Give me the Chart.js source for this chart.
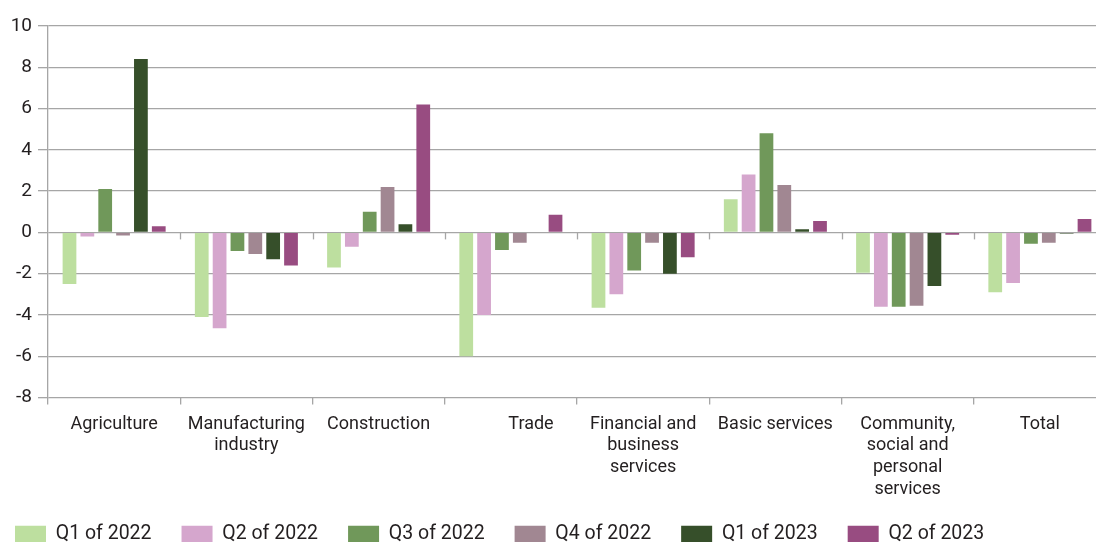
<!DOCTYPE html>
<html>
<head>
<meta charset="utf-8">
<script src="https://cdn.jsdelivr.net/npm/chart.js@4"></script>
<style>
  html, body { margin: 0; padding: 0; background: #fff; overflow: hidden; }
  #wrap { width: 1106px; height: 542px; }
</style>
</head>
<body>
<div id="wrap"><canvas id="sectorChart"></canvas></div>
<script>
// sectors on the x axis
const sectors = [
    'Agriculture',
    ['Manufacturing', 'industry'],
    'Construction',
    '         Trade',
    ['Financial and', 'business', 'services'],
    'Basic services',
    ['Community,', 'social and', 'personal', 'services'],
    'Total'
];

// one array per quarter, same order as sectors
const q1of2022 = [-2.5, -4.1, -1.7, -6.0, -3.65, 1.6, -1.95, -2.9];
const q2of2022 = [-0.2, -4.65, -0.7, -4.0, -3.0, 2.8, -3.6, -2.45];
const q3of2022 = [2.1, -0.9, 1.0, -0.85, -1.85, 4.8, -3.6, -0.55];
const q4of2022 = [-0.15, -1.05, 2.2, -0.5, -0.5, 2.3, -3.55, -0.5];
const q1of2023 = [8.4, -1.3, 0.4, -0.03, -2.0, 0.15, -2.6, -0.05];
const q2of2023 = [0.3, -1.6, 6.2, 0.85, -1.2, 0.55, -0.12, 0.65];

const yTicks = [10, 8, 6, 4, 2, 0, -2, -4, -6, -8];

const gridGray = '#a6a6a6';
const textColor = '#231f20';

// little tick marks on the zero line between categories
const zeroTicks = {
    id: 'zeroTicks',
    afterDraw(chart) {
        const x = chart.scales.x;
        const y0 = chart.scales.y.getPixelForValue(0);
        const ctx = chart.ctx;
        const half = (x.getPixelForValue(1) - x.getPixelForValue(0)) / 2;
        ctx.save();
        ctx.strokeStyle = gridGray;
        ctx.lineWidth = 1.3;
        for (let i = 1; i < sectors.length; i++) {
            const px = Math.round(x.getPixelForValue(i) - half) + 0.5;
            ctx.beginPath();
            ctx.moveTo(px, y0);
            ctx.lineTo(px, y0 + 7);
            ctx.stroke();
        }
        ctx.restore();
    }
};

Chart.defaults.font.family = 'Roboto, "Liberation Sans", sans-serif';
Chart.defaults.color = textColor;

const ctx = document.getElementById('sectorChart').getContext('2d');
const chart = new Chart(ctx, {
    type: 'bar',
    data: {
        labels: sectors,
        datasets: [
            { label: 'Q1 of 2022', data: q1of2022, backgroundColor: '#bddf9f' },
            { label: 'Q2 of 2022', data: q2of2022, backgroundColor: '#d5a6cd' },
            { label: 'Q3 of 2022', data: q3of2022, backgroundColor: '#70985a' },
            { label: 'Q4 of 2022', data: q4of2022, backgroundColor: '#a18792' },
            { label: 'Q1 of 2023', data: q1of2023, backgroundColor: '#364f2a' },
            { label: 'Q2 of 2023', data: q2of2023, backgroundColor: '#984c81' }
        ]
    },
    options: {
        responsive: true,
        maintainAspectRatio: false,
        animation: false,
        datasets: {
            bar: { categoryPercentage: 0.81, barPercentage: 0.77 }
        },
        layout: {
            padding: { top: 26, left: -15, right: 0, bottom: -12 }
        },
        plugins: {
            legend: {
                position: 'bottom',
                align: 'start',
                labels: {
                    boxWidth: 31,
                    boxHeight: 17,
                    padding: 30,
                    font: { size: 19.5 },
                    color: textColor
                }
            },
            tooltip: { enabled: false },
            title: { display: false }
        },
        scales: {
            x: {
                grid: {
                    offset: true,
                    drawOnChartArea: false,
                    drawTicks: true,
                    tickLength: 7,
                    color: gridGray,
                    lineWidth: 1.3
                },
                border: { display: false },
                ticks: {
                    font: { size: 18, lineHeight: 1.2 },
                    maxRotation: 0,
                    autoSkip: false,
                    padding: 9
                },
                afterFit(scale) { scale.height = 97; }
            },
            y: {
                min: -8,
                max: 10,
                afterBuildTicks(scale) {
                    scale.ticks = yTicks.map(v => ({ value: v }));
                },
                grid: {
                    color: gridGray,
                    lineWidth: 1.3,
                    drawTicks: true,
                    tickLength: 10
                },
                border: { display: true, color: gridGray, width: 1.3 },
                ticks: {
                    font: { size: 19 },
                    padding: 6
                },
                afterFit(scale) { scale.width = 63; }
            }
        }
    },
    plugins: [zeroTicks]
});
</script>
</body>
</html>
